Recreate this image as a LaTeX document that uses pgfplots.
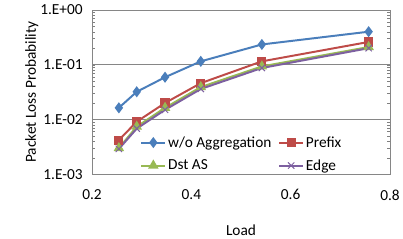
\documentclass[border=0pt]{standalone}
\usepackage{pgfplots}
\pgfplotsset{compat=1.18}
\usepackage{fontspec}
\setmainfont{Carlito}
\definecolor{cblue}{HTML}{4A7EBB}
\definecolor{cred}{HTML}{BE4B48}
\definecolor{cgreen}{HTML}{98B954}
\definecolor{cpurple}{HTML}{7D60A0}
\definecolor{cgrid}{HTML}{868686}
\begin{document}
\begin{tikzpicture}
\begin{axis}[
  scale only axis,
  width=301pt, height=166pt,
  xmin=0.2, xmax=0.8,
  ymode=log, ymin=1e-3, ymax=1,
  xtick={0.2,0.4,0.6,0.8},
  xticklabels={0.2,0.4,0.6,0.8},
  ytick={1e-3,1e-2,1e-1,1},
  yticklabels={1.E-03,1.E-02,1.E-01,1.E+00},
  minor ytick={},
  major tick length=0pt,
  ymajorgrids,
  grid style={cgrid, line width=0.8pt},
  axis line style={cgrid, line width=0.8pt},
  font=\fontsize{15.5}{18}\selectfont,
  xticklabel style={yshift=-12pt},
  yticklabel style={xshift=-6pt},
  xlabel={Load},
  ylabel={Packet Loss Probability},
  xlabel style={yshift=-18pt},
  ylabel style={yshift=-5pt},
  legend columns=2,
  legend cell align=left,
  legend image code/.code={\draw[mark repeat=2,mark phase=2] plot coordinates {(0cm,0cm)(0.42cm,0cm)(0.84cm,0cm)};},
  legend style={draw=none, fill=none, at={(0.152,0.255)}, anchor=north west,
    /tikz/every even column/.append style={column sep=5pt},
    row sep=7pt, font=\fontsize{15.5}{18}\selectfont},
  every axis plot/.append style={line width=2pt},
]
\addplot[cblue, mark=diamond*, mark size=4pt, mark options={solid}] coordinates {
 (0.254,0.0163) (0.29,0.032) (0.347,0.059) (0.419,0.115) (0.542,0.234) (0.757,0.40)};
\addlegendentry{w/o Aggregation}
\addplot[cred, mark=square*, mark size=3.6pt] coordinates {
 (0.254,0.0042) (0.29,0.0091) (0.347,0.020) (0.419,0.046) (0.542,0.115) (0.757,0.26)};
\addlegendentry{Prefix}
\addplot[cgreen, mark=triangle*, mark size=4.2pt] coordinates {
 (0.254,0.0030) (0.29,0.0074) (0.347,0.0163) (0.419,0.039) (0.542,0.093) (0.757,0.21)};
\addlegendentry{Dst AS}
\addplot[cpurple, mark=x, mark size=4.5pt, mark options={line width=1pt}] coordinates {
 (0.254,0.0029) (0.29,0.0068) (0.347,0.0150) (0.419,0.036) (0.542,0.087) (0.757,0.20)};
\addlegendentry{Edge}
\end{axis}
\path ([xshift=-93pt,yshift=-64pt]current axis.south west) rectangle ([xshift=9pt,yshift=10pt]current axis.north east);
\end{tikzpicture}
\end{document}
